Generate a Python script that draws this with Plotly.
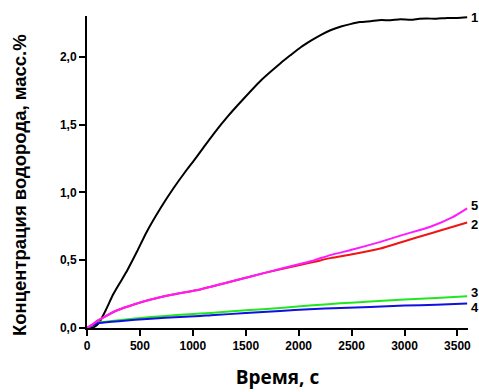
import plotly.graph_objects as go

# ---- data ----
t1 = [0, 30, 66, 110, 170, 249, 320, 381, 470, 565, 700, 817, 927, 1006, 1100, 1195, 1330, 1480, 1650, 1826, 1921, 2020, 2120, 2220, 2300, 2400, 2488, 2580, 2680, 2780, 2867, 2960, 3060, 3140, 3214, 3300, 3400, 3500, 3592]
v1 = [0, 0.002, 0.007, 0.035, 0.12, 0.25, 0.345, 0.426, 0.56, 0.71, 0.89, 1.03, 1.15, 1.23, 1.33, 1.43, 1.56, 1.69, 1.83, 1.95, 2.01, 2.07, 2.12, 2.165, 2.195, 2.222, 2.24, 2.255, 2.262, 2.27, 2.268, 2.276, 2.272, 2.28, 2.282, 2.279, 2.286, 2.285, 2.29]

t5 = [0, 50, 97, 161, 287, 450, 603, 800, 1069, 1300, 1500, 1700, 2000, 2150, 2299, 2520, 2772, 3000, 3245, 3450, 3592]
v5 = [0, 0.025, 0.052, 0.081, 0.131, 0.175, 0.21, 0.245, 0.284, 0.33, 0.37, 0.41, 0.47, 0.50, 0.537, 0.58, 0.635, 0.69, 0.746, 0.815, 0.882]

t2 = [0, 50, 97, 161, 287, 450, 603, 800, 1069, 1300, 1500, 1700, 2000, 2150, 2299, 2520, 2772, 3000, 3245, 3450, 3592]
v2 = [0, 0.025, 0.052, 0.081, 0.131, 0.175, 0.21, 0.245, 0.284, 0.33, 0.37, 0.41, 0.462, 0.488, 0.515, 0.545, 0.586, 0.64, 0.697, 0.745, 0.778]

t3 = [0, 50, 100, 160, 300, 603, 880, 1069, 1170, 1500, 1826, 2100, 2394, 2675, 3000, 3300, 3592]
v3 = [0, 0.02, 0.04, 0.045, 0.058, 0.081, 0.097, 0.106, 0.111, 0.13, 0.148, 0.165, 0.182, 0.195, 0.21, 0.222, 0.234]

t4 = [0, 50, 100, 160, 300, 603, 880, 1069, 1170, 1500, 1826, 2100, 2394, 2675, 3000, 3300, 3592]
v4 = [0, 0.018, 0.035, 0.04, 0.05, 0.069, 0.082, 0.088, 0.094, 0.11, 0.126, 0.138, 0.148, 0.155, 0.165, 0.172, 0.18]

x_tickvals = [0, 500, 1000, 1500, 2000, 2500, 3000, 3500]
x_ticktext = ["0", "500", "1000", "1500", "2000", "2500", "3000", "3500"]
y_tickvals = [0, 0.5, 1.0, 1.5, 2.0]
y_ticktext = ["0,0", "0,5", "1,0", "1,5", "2,0"]

x_title = "Время, с"
y_title = "Концентрация водорода, масс.%"

series = [
    ("1", t1, v1, "#000000", 0),
    ("3", t3, v3, "#22e622", 4),
    ("4", t4, v4, "#1010e0", -4),
    ("2", t2, v2, "#f01414", -2),
    ("5", t5, v5, "#ff1aff", 3),
]

fig = go.Figure()
annotations = []
for name, tx, vy, col, dy in series:
    fig.add_trace(go.Scatter(x=tx, y=vy, mode="lines", name=name,
                             line=dict(color=col, width=2, shape="spline", smoothing=0.6),
                             showlegend=False))
    annotations.append(dict(x=tx[-1], y=vy[-1], xref="x", yref="y", text=name,
                            showarrow=False, xanchor="left", yanchor="middle",
                            xshift=2, yshift=dy,
                            font=dict(family="Liberation Sans, Arial", size=13,
                                      color="black", weight="bold")))

# y-axis title placed as a rotated annotation (slightly below the plot centre, as in the reference)
annotations.append(dict(x=0, y=0.458, xref="paper", yref="paper", text=y_title,
                        showarrow=False, textangle=-90, xanchor="center", yanchor="middle",
                        xshift=-68,
                        font=dict(family="Liberation Sans, Arial", size=18.5,
                                  color="black", weight="bold")))

fig.update_layout(
    width=479, height=392,
    margin=dict(l=87, r=11, t=16, b=64),
    plot_bgcolor="white", paper_bgcolor="white",
    annotations=annotations,
    xaxis=dict(range=[0, 3600], tickvals=x_tickvals, ticktext=x_ticktext,
               automargin=False,
               showgrid=False, zeroline=False, showline=True, linecolor="black",
               linewidth=2, ticks="outside", ticklen=6, tickwidth=2, tickcolor="black",
               tickfont=dict(family="Liberation Sans, Arial", size=12, color="black", weight="bold"),
               title=dict(text=x_title, standoff=18,
                          font=dict(family="Open Sans", size=19, color="black", weight="bold"))),
    yaxis=dict(range=[0, 2.3], tickvals=y_tickvals, ticktext=y_ticktext,
               automargin=False,
               showgrid=False, zeroline=False, showline=True, linecolor="black",
               linewidth=2, ticks="outside", ticklen=6, tickwidth=2, tickcolor="black",
               tickfont=dict(family="Liberation Sans, Arial", size=12, color="black", weight="bold")),
)

fig.write_html("out.html", config={"displayModeBar": False},
               post_script="document.body.style.margin='0';document.body.style.overflow='hidden';")
